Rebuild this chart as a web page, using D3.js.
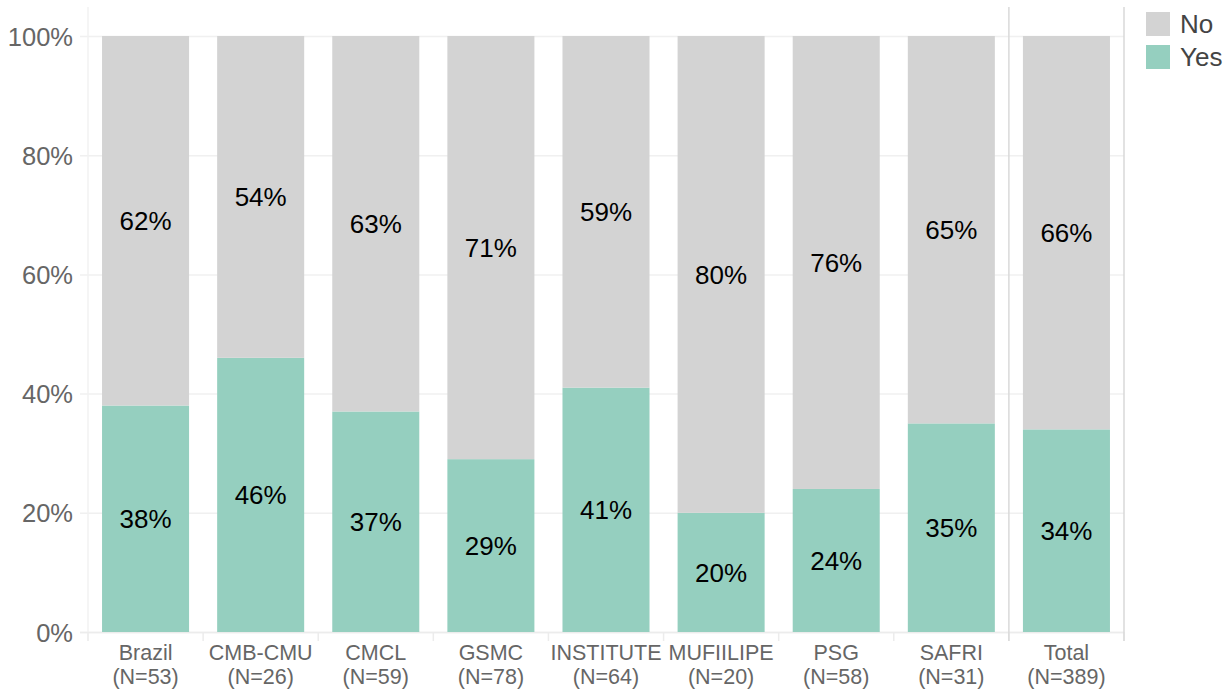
<!DOCTYPE html>
<html>
<head>
<meta charset="utf-8">
<script src="https://cdn.jsdelivr.net/npm/d3@7"></script>
<style>
  html, body { margin: 0; padding: 0; background: #fff; }
  svg { display: block; font-family: "Liberation Sans", Arial, sans-serif; }
</style>
</head>
<body>
<svg id="chart" width="1231" height="694"></svg>
<script>
// Sites and sample sizes
const categories = ["Brazil", "CMB-CMU", "CMCL", "GSMC", "INSTITUTE", "MUFIILIPE", "PSG", "SAFRI", "Total"];
const sampleSizes = [53, 26, 59, 78, 64, 20, 58, 31, 389];
// Share of respondents (%) per answer
const yesValues = [38, 46, 37, 29, 41, 20, 24, 35, 34];
const noValues  = [62, 54, 63, 71, 59, 80, 76, 65, 66];
const yTicks = [0, 20, 40, 60, 80, 100];
const seriesNames = ["No", "Yes"];
const seriesColors = { No: "#d3d3d3", Yes: "#95cfbf" };

const svg = d3.select("#chart");
const plotLeft = 88, plotRight = 1124, plotTop = 36, plotBottom = 632;

const x = d3.scaleBand()
  .domain(categories)
  .range([plotLeft, plotRight])
  .paddingInner(0.244)
  .paddingOuter(0.122);
const step = x.step();

const y = d3.scaleLinear().domain([0, 100]).range([plotBottom, plotTop]);

// Horizontal grid + y tick labels
const yAxis = d3.axisLeft(y)
  .tickValues(yTicks)
  .tickFormat(d => d + "%")
  .tickSize(-(plotRight - 80))
  .tickPadding(7);
const gy = svg.append("g").attr("transform", "translate(80,0)").call(yAxis);
gy.select(".domain").remove();
gy.selectAll(".tick line").attr("stroke", "#f0f0f0").attr("stroke-width", 1.5);
gy.selectAll(".tick text")
  .attr("fill", "#666")
  .attr("dy", "0.36em")
  .style("font-size", "25.5px")
  .style("font-family", "Liberation Sans, Arial, sans-serif");

// Panel left edge
svg.append("line")
  .attr("x1", plotLeft).attr("x2", plotLeft)
  .attr("y1", 7).attr("y2", 641)
  .attr("stroke", "#f2f2f2").attr("stroke-width", 1.5);

// Bottom axis line
svg.append("line")
  .attr("x1", 80).attr("x2", plotRight)
  .attr("y1", plotBottom + 0.5).attr("y2", plotBottom + 0.5)
  .attr("stroke", "#ececec").attr("stroke-width", 1.5);

// Boundary ticks between categories
const boundaries = categories.map(c => x(c) - (step - x.bandwidth()) / 2).concat([plotRight]);
svg.append("g").selectAll("line")
  .data(boundaries)
  .join("line")
  .attr("x1", d => d).attr("x2", d => d)
  .attr("y1", plotBottom).attr("y2", 641)
  .attr("stroke", "#ececec").attr("stroke-width", 1.5);

// Stacked bars
const rows = categories.map((c, i) => ({ category: c, Yes: yesValues[i], No: noValues[i] }));
const stack = d3.stack().keys(["Yes", "No"]);
const layers = stack(rows);

const gBars = svg.append("g");
layers.forEach(layer => {
  const key = layer.key;
  gBars.append("g").selectAll("rect")
    .data(layer)
    .join("rect")
    .attr("x", d => x(d.data.category))
    .attr("width", x.bandwidth())
    .attr("y", d => y(d[1]))
    .attr("height", d => y(d[0]) - y(d[1]))
    .attr("fill", seriesColors[key]);

  gBars.append("g").selectAll("text")
    .data(layer)
    .join("text")
    .attr("x", d => x(d.data.category) + x.bandwidth() / 2)
    .attr("y", d => y((d[0] + d[1]) / 2))
    .attr("dy", "0.36em")
    .attr("text-anchor", "middle")
    .attr("fill", "#000")
    .style("font-size", "26px")
    .text(d => d.data[key] + "%");
});

// Separator lines around the Total panel
const totalLeft = boundaries[categories.length - 1];
[totalLeft, plotRight].forEach(xv => {
  svg.append("line")
    .attr("x1", xv).attr("x2", xv)
    .attr("y1", 7).attr("y2", 641)
    .attr("stroke", "#d9d9d9").attr("stroke-width", 1.5);
});

// Category labels (two lines)
const gx = svg.append("g");
categories.forEach((c, i) => {
  const cx = x(c) + x.bandwidth() / 2;
  const t = gx.append("text")
    .attr("x", cx)
    .attr("y", 660)
    .attr("text-anchor", "middle")
    .attr("fill", "#666")
    .style("font-size", "21.5px");
  t.append("tspan").attr("x", cx).text(c);
  t.append("tspan").attr("x", cx).attr("dy", 24).text("(N=" + sampleSizes[i] + ")");
});

// Legend
const legend = svg.append("g").attr("transform", "translate(1146,12)");
seriesNames.forEach((name, i) => {
  const g = legend.append("g").attr("transform", `translate(0,${i * 33})`);
  g.append("rect").attr("width", 24).attr("height", 24).attr("fill", seriesColors[name]);
  g.append("text")
    .attr("x", 34).attr("y", 12).attr("dy", "0.36em")
    .attr("fill", "#444")
    .style("font-size", "26px")
    .text(name);
});
</script>
</body>
</html>
